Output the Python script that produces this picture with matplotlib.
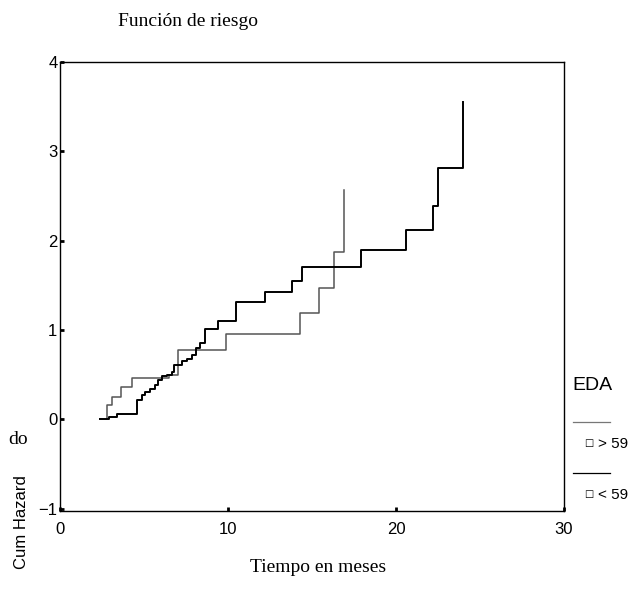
import matplotlib
matplotlib.use("Agg")
import matplotlib.pyplot as plt

# cumulative hazard, group <59 (ends at 24 months)
t_menor = [2.4, 2.9, 3.4, 4.55, 4.85, 5.05, 5.35, 5.65, 5.85, 6.05, 6.35, 6.65, 6.8,
           7.25, 7.55, 7.85, 8.1, 8.3, 8.6, 9.4, 10.5, 12.2, 13.8, 14.4, 17.9, 20.6,
           22.2, 22.5, 24.0]
h_menor = [0.0, 0.03, 0.06, 0.21, 0.27, 0.31, 0.34, 0.38, 0.44, 0.48, 0.49, 0.53, 0.61,
           0.65, 0.68, 0.72, 0.80, 0.85, 1.01, 1.10, 1.31, 1.42, 1.55, 1.70, 1.90, 2.12,
           2.39, 2.81, 3.55]

# cumulative hazard, group >59 (ends at 17 months)
t_mayor = [2.4, 2.8, 3.1, 3.6, 4.3, 6.5, 7.0, 9.9, 14.3, 15.4, 16.3, 16.9]
h_mayor = [0.0, 0.16, 0.25, 0.36, 0.46, 0.50, 0.78, 0.95, 1.19, 1.47, 1.87, 2.57]

xticks = [0, 10, 20, 30]
yticks = [-1, 0, 1, 2, 3, 4]
grupos = ["> 59", "< 59"]

narrow = ["Liberation Sans Narrow", "Liberation Sans", "DejaVu Sans"]
serif = ["Liberation Serif", "DejaVu Serif"]

fig = plt.figure(figsize=(6.4, 5.91), dpi=100)
ax = fig.add_axes([0.094, 0.135, 0.787, 0.76])

ax.step(t_mayor, h_mayor, where="post", color="#555555", lw=1.1)
ax.step(t_menor, h_menor, where="post", color="black", lw=1.4)

ax.set_xlim(0, 30)
ax.set_ylim(-1.03, 4.0)
ax.set_xticks(xticks)
ax.set_yticks(yticks)
ax.tick_params(direction="in", length=3, width=2, labelsize=12)
ax.tick_params(axis="x", pad=8)
ax.tick_params(axis="y", pad=2)
for lab in ax.get_xticklabels() + ax.get_yticklabels():
    lab.set_family(narrow)
for s in ax.spines.values():
    s.set_linewidth(1.0)

fig.text(118 / 640, 1 - 22 / 591, "Función de riesgo", family=serif,
         fontsize=14, ha="left", va="center")
fig.text(318 / 640, 1 - 568 / 591, "Tiempo en meses", family=serif,
         fontsize=14, ha="center", va="center")
fig.text(8 / 640, 1 - 440 / 591, "do", family=serif, fontsize=14,
         ha="left", va="center")
fig.text(22 / 640, 1 - 522 / 591, "Cum Hazard", family=narrow, fontsize=12,
         rotation=90, ha="center", va="center")

# legend drawn by hand at right side
fig.text(572 / 640, 1 - 386 / 591, "EDA", family=narrow, fontsize=14,
         ha="left", va="center")
leg_y = [422, 473]
leg_col = ["#777777", "black"]
for g, y, c in zip(grupos, leg_y, leg_col):
    fig.add_artist(plt.Line2D([573 / 640, 610 / 640], [1 - y / 591, 1 - y / 591],
                              color=c, lw=0.9, transform=fig.transFigure))
    fig.text(584 / 640, 1 - (y + 21) / 591, "\u25a1", family=["DejaVu Sans"],
             fontsize=7, ha="left", va="center")
    fig.text(598 / 640, 1 - (y + 22) / 591, g, family=narrow, fontsize=11,
             ha="left", va="center")

fig.savefig("out.png", dpi=100)
